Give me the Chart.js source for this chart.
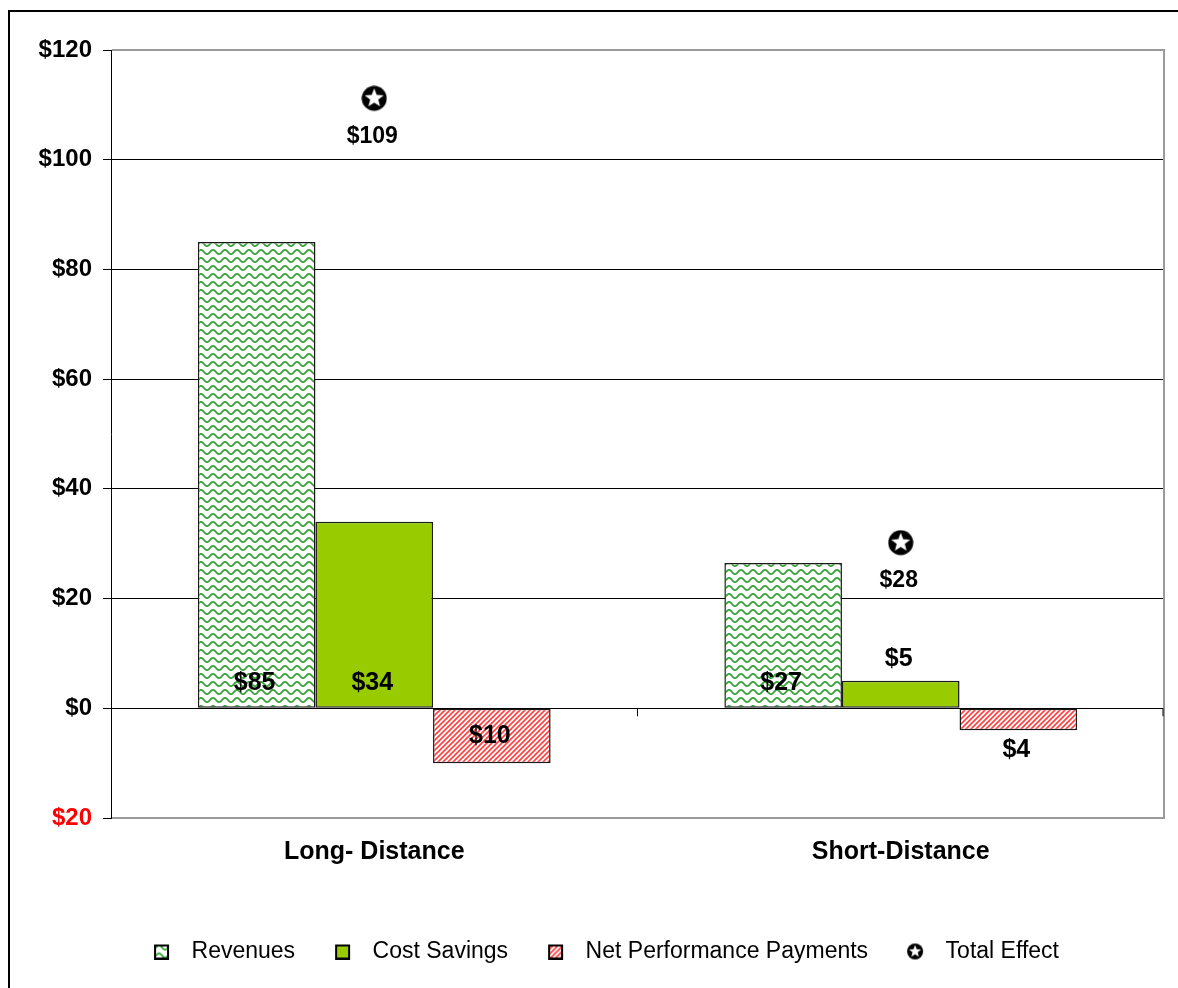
<!DOCTYPE html>
<html>
<head>
<meta charset="utf-8">
<script src="https://cdn.jsdelivr.net/npm/chart.js@4.4.1/dist/chart.umd.min.js"></script>
<style>
  html, body { margin: 0; padding: 0; background: #fff; overflow: hidden; }
  #wrap { width: 1178px; height: 988px; }
</style>
</head>
<body>
<div id="wrap"><canvas id="grafico"></canvas></div>
<script>
// ----- DATA -----
const categories = ["Long- Distance", "Short-Distance"];
const revenues = [85, 26.5];
const costSavings = [34, 5];
const netPerformance = [-10, -4];
const totalEffect = [109, 28];
const seriesNames = ["Revenues", "Cost Savings", "Net Performance Payments", "Total Effect"];
const yMin = -20, yMax = 120, yStep = 20;

const FONT = '"Liberation Sans", Arial, sans-serif';
const canvas = document.getElementById("grafico");
const ctx = canvas.getContext("2d");

// ----- PATTERNS -----
function wavePattern(g) {
  const t = document.createElement("canvas");
  t.width = 12; t.height = 8;
  const c = t.getContext("2d");
  c.fillStyle = "#fff"; c.fillRect(0, 0, 12, 8);
  c.strokeStyle = "#36a336"; c.lineWidth = 1.8;
  c.beginPath();
  for (let x = -1; x <= 13; x += 0.5) {
    const y = 4 + 2.1 * Math.sin(x / 12 * 2 * Math.PI);
    x === -1 ? c.moveTo(x, y) : c.lineTo(x, y);
  }
  c.stroke();
  return g.createPattern(t, "repeat");
}

function stripePattern(g) {
  const t = document.createElement("canvas");
  t.width = 5; t.height = 5;
  const c = t.getContext("2d");
  c.fillStyle = "#fff"; c.fillRect(0, 0, 5, 5);
  c.strokeStyle = "#ff4040"; c.lineWidth = 1.6;
  c.beginPath();
  c.moveTo(-1, 6); c.lineTo(6, -1);
  c.moveTo(-3.5, 3.5); c.lineTo(3.5, -3.5);
  c.moveTo(1.5, 8.5); c.lineTo(8.5, 1.5);
  c.stroke();
  return g.createPattern(t, "repeat");
}

// black disc with white star
function starIcon(r, w, h, cx, cy) {
  const c = document.createElement("canvas");
  c.width = w; c.height = h;
  const g = c.getContext("2d");
  g.fillStyle = "#000";
  g.beginPath(); g.arc(cx, cy, r, 0, 2 * Math.PI); g.fill();
  g.fillStyle = "#fff";
  g.beginPath();
  for (let i = 0; i < 10; i++) {
    const rr = i % 2 === 0 ? r * 0.8 : r * 0.34;
    const a = -Math.PI / 2 + i * Math.PI / 5;
    g.lineTo(cx + rr * Math.cos(a), cy + rr * Math.sin(a));
  }
  g.closePath(); g.fill();
  return c;
}

function legendBox(fill) {
  const c = document.createElement("canvas");
  c.width = 54; c.height = 16;
  const g = c.getContext("2d");
  g.fillStyle = typeof fill === "function" ? fill(g) : fill;
  g.fillRect(28, 1, 15, 15);
  g.strokeStyle = "#000"; g.lineWidth = 2;
  g.strokeRect(29, 2, 13, 13);
  return c;
}

// marker sits 12px above its value, label goes below
const markerStar = starIcon(12.5, 26, 50, 13, 13);
const legendIcons = [
  legendBox(wavePattern),
  legendBox("#99cc00"),
  legendBox(stripePattern),
  starIcon(8, 54, 18, 35, 9)
];

// ----- PLUGINS -----
const frame = {
  id: "frame",
  beforeDraw(chart) {
    const c = chart.ctx;
    c.save();
    c.fillStyle = "#000";
    c.fillRect(8, 10, 2, chart.height);
    c.fillRect(8, 10, chart.width, 2);
    c.restore();
  },
  afterDraw(chart) {
    const c = chart.ctx, a = chart.chartArea;
    c.save();
    c.strokeStyle = "#9a9a9a"; c.lineWidth = 2;
    c.beginPath();
    c.moveTo(a.left + 1, a.top); c.lineTo(a.right, a.top);
    c.lineTo(a.right, a.bottom); c.lineTo(a.left + 1, a.bottom);
    c.stroke();
    // category ticks on the zero line
    const x = chart.scales.x, y0 = chart.scales.y.getPixelForValue(0);
    const mid = (x.getPixelForValue(0) + x.getPixelForValue(1)) / 2;
    c.strokeStyle = "#000"; c.lineWidth = 1;
    c.beginPath();
    [mid, a.right - 1].forEach(px => { c.moveTo(px, y0); c.lineTo(px, y0 + 8); });
    c.stroke();
    c.restore();
  }
};

const valueLabels = {
  id: "valueLabels",
  afterDatasetsDraw(chart) {
    const c = chart.ctx;
    c.save();
    c.fillStyle = "#000";
    c.textAlign = "center";
    c.textBaseline = "middle";
    chart.data.datasets.forEach((ds, i) => {
      chart.getDatasetMeta(i).data.forEach((el, j) => {
        const v = ds.data[j];
        const txt = "$" + Math.round(Math.abs(v));
        let y;
        if (ds.type === "line") {
          c.font = "bold 23px " + FONT;
          y = el.y + 26;
        } else {
          c.font = "bold 25px " + FONT;
          const h = Math.abs(el.base - el.y);
          if (v >= 0) y = h > 45 ? el.base - 25 : el.y - 22;
          else y = h > 40 ? (el.y + el.base) / 2 : el.y + 20;
        }
        c.fillText(txt, el.x - 2, y);
      });
    });
    c.restore();
  }
};

// ----- CHART -----
new Chart(ctx, {
  data: {
    labels: categories,
    datasets: [
      { type: "bar", label: seriesNames[0], data: revenues, backgroundColor: wavePattern(ctx) },
      { type: "bar", label: seriesNames[1], data: costSavings, backgroundColor: "#99cc00" },
      { type: "bar", label: seriesNames[2], data: netPerformance, backgroundColor: stripePattern(ctx) },
      { type: "line", label: seriesNames[3], data: totalEffect, showLine: false,
        pointStyle: markerStar, pointRadius: 13, borderColor: "#000", backgroundColor: "#000" }
    ]
  },
  options: {
    responsive: true,
    maintainAspectRatio: false,
    animation: false,
    events: [],
    layout: { padding: { top: 50, right: 13, bottom: 15, left: 20 } },
    datasets: {
      bar: { categoryPercentage: 0.67, barPercentage: 1, borderColor: "#1a1a1a", borderWidth: 1.5, borderSkipped: false }
    },
    scales: {
      x: {
        grid: { display: false, drawTicks: false },
        border: { display: false },
        ticks: { color: "#000", padding: 19, font: { family: FONT, size: 25, weight: "bold" } },
        afterFit: s => { s.height = 110; }
      },
      y: {
        min: yMin, max: yMax,
        grid: {
          color: c => (c.tick.value === yMax || c.tick.value === yMin) ? "rgba(0,0,0,0)" : "#000",
          tickColor: "#000", tickLength: 8, lineWidth: 1
        },
        border: { display: true, color: "#000", width: 1 },
        ticks: {
          stepSize: yStep, padding: 11,
          color: c => c.tick.value < 0 ? "#ff0000" : "#000",
          font: { family: FONT, size: 24, weight: "bold" },
          callback: v => "$" + Math.abs(v)
        },
        afterFit: s => { s.width = 91; }
      }
    },
    plugins: {
      tooltip: { enabled: false },
      legend: {
        position: "bottom",
        labels: {
          usePointStyle: true,
          pointStyleWidth: 54,
          padding: 12,
          color: "#000",
          font: { family: FONT, size: 23 },
          generateLabels: chart => chart.data.datasets.map((ds, i) => ({
            text: ds.label, pointStyle: legendIcons[i], datasetIndex: i,
            fillStyle: "#000", strokeStyle: "#000", lineWidth: 0, hidden: false
          }))
        }
      }
    }
  },
  plugins: [frame, valueLabels]
});
</script>
</body>
</html>
